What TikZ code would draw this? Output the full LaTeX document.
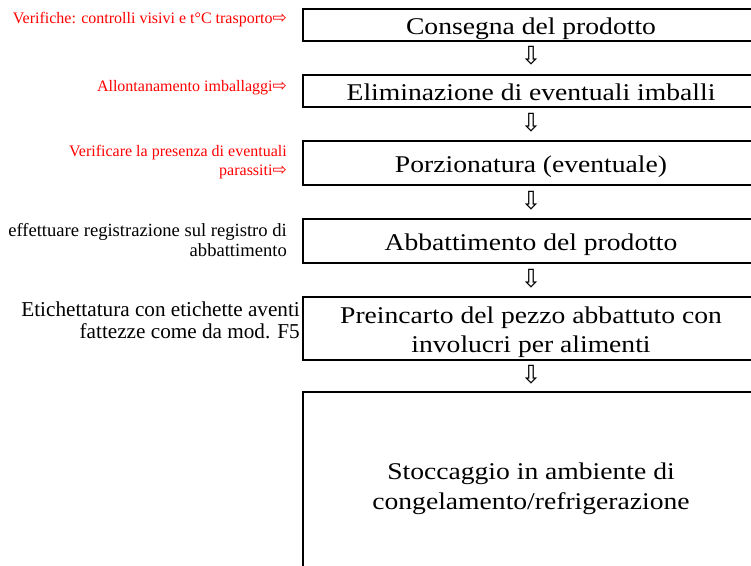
\documentclass[tikz,border=0pt]{standalone}
\usepackage{fontspec}
\setmainfont{Liberation Serif}
\newfontfamily\notefont{Liberation Serif}
\newfontfamily\boxfont[FakeStretch=1.15]{Liberation Serif}
\newfontfamily\arrowfont{DejaVu Sans}
% every line in a box gets the same height and depth
\newcommand{\fixline}[1]{\raisebox{0pt}[20pt][1pt]{#1}}
\newcommand{\rarrow}{{\arrowfont\fontsize{17}{17}\selectfont ⇨}}

\begin{document}
\begin{tikzpicture}[x=1pt, y=-1pt,
		stepbox/.style={draw, line width=1.8pt, minimum width=456pt, inner sep=0pt, align=center,
			font=\boxfont\fontsize{24}{29.5}\selectfont},
		downarrow/.style={inner sep=0pt, font=\arrowfont\fontsize{25}{25}\selectfont},
		rednote/.style={anchor=east, align=right, inner sep=0pt, text=red,
			font=\notefont\fontsize{16}{19}\selectfont},
		blacknote/.style={anchor=east, align=right, inner sep=0pt, font=\notefont\fontsize{18.6}{20}\selectfont}]
		\useasboundingbox (0,0) rectangle (751,565);
		\clip (0,0) rectangle (751,565);

		\node[stepbox, minimum height=32pt] (consegna) at (531, 25) {\fixline{Consegna del prodotto}};
		\node[stepbox, minimum height=32pt] (imballi) at (531, 91) {\fixline{Eliminazione di eventuali imballi}};
		\node[stepbox, minimum height=44pt] (porzionatura) at (531, 163) {\fixline{Porzionatura (eventuale)}};
		\node[stepbox, minimum height=44pt] (abbattimento) at (531, 241) {\fixline{Abbattimento del prodotto}};
		\node[stepbox, minimum height=63pt] (preincarto) at (531, 328.5) {\fixline{Preincarto del pezzo abbattuto con}\\\fixline{involucri per alimenti}};
		\node[stepbox, minimum height=186pt] (stoccaggio) at (531, 485) {\fixline{Stoccaggio in ambiente di}\\\fixline{congelamento/refrigerazione}};

		\node[downarrow] (a1) at (531, 56) {⇩};
		\node[downarrow] (a2) at (531, 123) {⇩};
		\node[downarrow] (a3) at (531, 201) {⇩};
		\node[downarrow] (a4) at (531, 279) {⇩};
		\node[downarrow] (a5) at (531, 375) {⇩};

		\node[rednote] (verifiche) at (287, 20) {Verifiche: controlli visivi e t°C trasporto\rarrow};
		\node[rednote] (allontanamento) at (287, 88) {Allontanamento imballaggi\rarrow};
		\node[rednote] (parassiti) at (287, 162) {Verificare la presenza di eventuali\\parassiti\rarrow};
		\node[blacknote] (registro) at (287, 240) {effettuare registrazione sul registro di\\abbattimento};
		\node[blacknote, font=\notefont\fontsize{21.2}{22}\selectfont] (etichette) at (300, 320) {Etichettatura con etichette aventi\\fattezze come da mod. F5};

	\end{tikzpicture}
\end{document}
